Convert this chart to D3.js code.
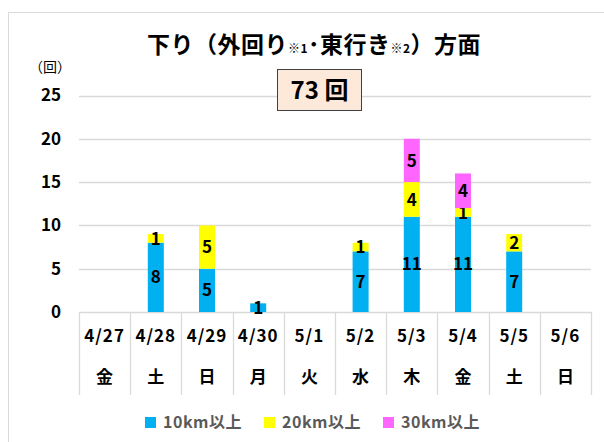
<!DOCTYPE html>
<html>
<head>
<meta charset="utf-8">
<script src="https://cdn.jsdelivr.net/npm/d3@7"></script>
<style>
  body { margin: 0; background: #fff; }
  text { font-family: "Noto Sans CJK JP", "DejaVu Sans", sans-serif; font-weight: bold; }
</style>
</head>
<body>
<div id="chart"></div>
<script>
// data
const dates = ["4/27", "4/28", "4/29", "4/30", "5/1", "5/2", "5/3", "5/4", "5/5", "5/6"];
const weekdays = ["金", "土", "日", "月", "火", "水", "木", "金", "土", "日"];
const km10 = [0, 8, 5, 1, 0, 7, 11, 11, 7, 0];
const km20 = [0, 1, 5, 0, 0, 1, 4, 1, 2, 0];
const km30 = [0, 0, 0, 0, 0, 0, 5, 4, 0, 0];
const seriesNames = ["10km以上", "20km以上", "30km以上"];
const seriesColors = ["#00b0f0", "#ffff00", "#ff66ff"];
const yTicks = [0, 5, 10, 15, 20, 25];
const total = 73;

const W = 604, H = 442;
const svg = d3.select("#chart").append("svg")
    .attr("width", W)
    .attr("height", H);

// outer frame
svg.append("rect")
    .attr("x", 8.5).attr("y", 12.5)
    .attr("width", 620).attr("height", 460)
    .attr("fill", "none")
    .attr("stroke", "#d9d9d9");

const x = d3.scaleBand()
    .domain(dates)
    .range([79, 591])
    .paddingInner(0);

const y = d3.scaleLinear()
    .domain([0, 25])
    .range([312, 95.5]);

// gridlines
svg.append("g")
    .selectAll("line")
    .data(yTicks)
    .enter().append("line")
    .attr("x1", 79).attr("x2", 591)
    .attr("y1", d => Math.round(y(d)) + 0.5)
    .attr("y2", d => Math.round(y(d)) + 0.5)
    .attr("stroke", "#d9d9d9")
    .attr("stroke-width", 1.3);

// y labels
svg.append("g")
    .selectAll("text")
    .data(yTicks)
    .enter().append("text")
    .attr("x", 61)
    .attr("y", d => y(d))
    .attr("dy", "0.35em")
    .attr("text-anchor", "end")
    .attr("font-size", 17)
    .attr("fill", "#000")
    .text(d => d);

svg.append("text")
    .attr("x", 50).attr("y", 72)
    .attr("text-anchor", "middle")
    .attr("font-size", 14)
    .style("font-weight", "normal")
    .text("（回）");

// category table lines
const bounds = dates.map(d => x(d)).concat([x.range()[1]]);
svg.append("g")
    .selectAll("line")
    .data(bounds)
    .enter().append("line")
    .attr("x1", d => Math.round(d) + 0.5)
    .attr("x2", d => Math.round(d) + 0.5)
    .attr("y1", 312).attr("y2", 395)
    .attr("stroke", "#d9d9d9")
    .attr("stroke-width", 1.3);

const cats = svg.append("g");
cats.selectAll(".date")
    .data(dates)
    .enter().append("text")
    .attr("class", "date")
    .attr("x", d => x(d) + x.bandwidth() / 2)
    .attr("y", 336.5)
    .attr("dy", "0.35em")
    .attr("text-anchor", "middle")
    .attr("font-size", 17)
    .attr("letter-spacing", 1)
    .text(d => d);

cats.selectAll(".wd")
    .data(weekdays)
    .enter().append("text")
    .attr("class", "wd")
    .attr("x", (d, i) => x(dates[i]) + x.bandwidth() / 2)
    .attr("y", 377)
    .attr("dy", "0.36em")
    .attr("text-anchor", "middle")
    .attr("font-size", 17)
    .text(d => d);

// stacked bars
const table = dates.map((d, i) => ({ date: d, s0: km10[i], s1: km20[i], s2: km30[i] }));
const stack = d3.stack().keys(["s0", "s1", "s2"]);
const layers = stack(table);
const barW = 16;

const layerG = svg.append("g")
    .selectAll("g")
    .data(layers)
    .enter().append("g")
    .attr("fill", (d, i) => seriesColors[i]);

layerG.selectAll("rect")
    .data(d => d.filter(p => p[1] - p[0] > 0))
    .enter().append("rect")
    .attr("x", p => x(p.data.date) + x.bandwidth() / 2 - barW / 2)
    .attr("y", p => y(p[1]))
    .attr("width", barW)
    .attr("height", p => y(p[0]) - y(p[1]));

layerG.selectAll("text")
    .data(d => d.filter(p => p[1] - p[0] > 0).map(p => ({ p: p, key: d.key })))
    .enter().append("text")
    .attr("x", d => x(d.p.data.date) + x.bandwidth() / 2)
    .attr("y", d => y((d.p[0] + d.p[1]) / 2))
    .attr("dy", "0.36em")
    .attr("text-anchor", "middle")
    .attr("font-size", 17)
    .attr("fill", "#000")
    .text(d => d.p[1] - d.p[0]);

// title
const title = svg.append("text")
    .attr("x", 314).attr("y", 53)
    .attr("text-anchor", "middle")
    .attr("font-size", 23)
    .attr("letter-spacing", 0.5)
    .attr("fill", "#000");
title.append("tspan").text("下り（外回り");
title.append("tspan").attr("font-size", 12).text("※1");
title.append("tspan").text("･東行き");
title.append("tspan").attr("font-size", 12).text("※2");
title.append("tspan").text("）方面");

// total box
svg.append("rect")
    .attr("x", 277.5).attr("y", 69.5)
    .attr("width", 84).attr("height", 41)
    .attr("fill", "#fde9d9")
    .attr("stroke", "#404040");
svg.append("text")
    .attr("x", 319.5).attr("y", 90)
    .attr("dy", "0.36em")
    .attr("text-anchor", "middle")
    .attr("font-size", 24)
    .attr("fill", "#000")
    .text(total + " 回");

// legend
const legend = svg.append("g")
    .selectAll("g")
    .data(seriesNames)
    .enter().append("g")
    .attr("transform", (d, i) => "translate(" + (145 + i * 119) + ",417)");
legend.append("rect")
    .attr("width", 11).attr("height", 11)
    .attr("fill", (d, i) => seriesColors[i]);
legend.append("text")
    .attr("x", 18).attr("y", 5.5)
    .attr("dy", "0.36em")
    .attr("font-size", 16)
    .attr("letter-spacing", 0.5)
    .attr("fill", "#595959")
    .text(d => d);
</script>
</body>
</html>
